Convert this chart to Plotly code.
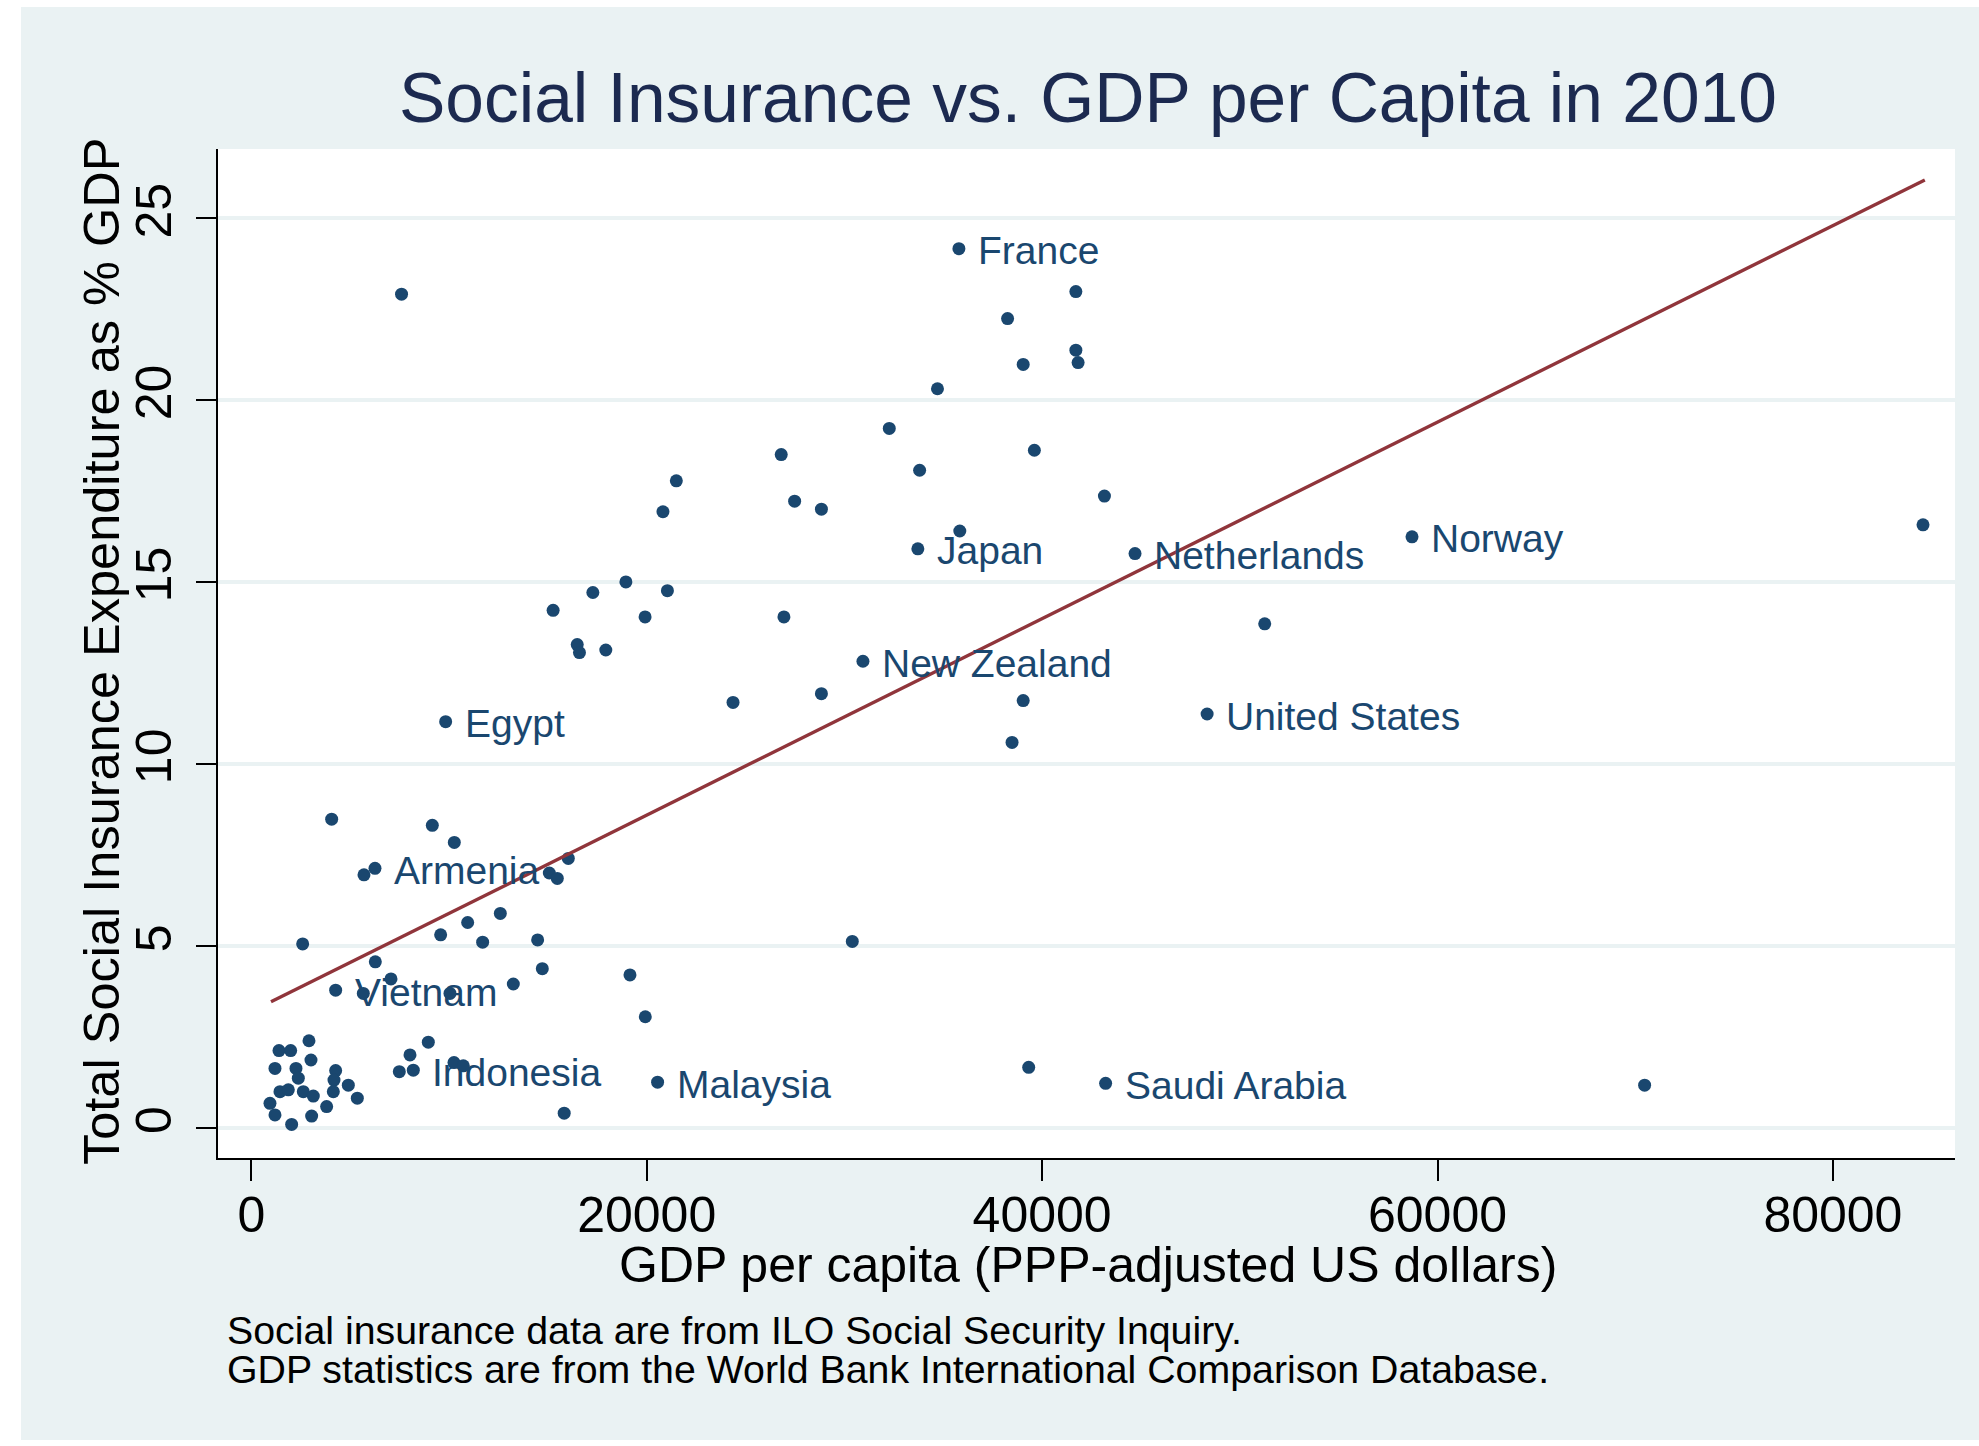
import plotly.graph_objects as go

# ---------------- data ----------------
gdp = [35792, 41708, 38254, 41708, 41821, 39044, 34708, 32270, 26805, 39609,
       33805, 21499, 20822, 27483, 28838, 43153, 35837, 33715, 44700, 58711,
       84558, 18948, 17277, 21048, 15267, 19919, 26941, 16486, 16599, 17931,
       51260, 30938, 24367, 28838, 39044, 38480, 48347, 9831, 7600, 4065,
       9156, 10269, 5700, 6257, 15074, 15479, 16035, 2598, 9578, 10944,
       12596, 11702, 14484, 6273, 14720, 19154, 19929, 4267, 5666, 7066,
       10050, 13253, 30400, 8195, 7487, 8027, 8954, 10252, 10724, 15827,
       20551, 39322, 43213, 70476,
       2918, 1401, 1991, 3019, 1198, 2260, 2378, 4267, 4183, 4908,
       1451, 1873, 2631, 3137, 4149, 5363, 945, 3811, 1198, 3053, 2041]
social_ins = [24.16, 22.98, 22.24, 21.37, 21.03, 20.98, 20.31, 19.22, 18.50, 18.62,
              18.07, 17.78, 16.93, 17.22, 17.00, 17.36, 16.40, 15.91, 15.78, 16.24,
              16.57, 15.00, 14.71, 14.76, 14.22, 14.04, 14.04, 13.28, 13.06, 13.13,
              13.85, 12.82, 11.69, 11.93, 11.74, 10.59, 11.37, 11.16, 22.91, 8.48,
              8.31, 7.84, 6.95, 7.13, 7.00, 6.85, 7.40, 5.05, 5.30, 5.64,
              5.89, 5.10, 5.16, 4.56, 4.37, 4.20, 3.05, 3.78, 3.69, 4.09,
              3.69, 3.95, 5.12, 1.58, 1.54, 2.00, 2.35, 1.79, 1.70, 0.40,
              1.25, 1.66, 1.22, 1.17,
              2.39, 2.12, 2.12, 1.86, 1.63, 1.63, 1.36, 1.57, 1.31, 1.17,
              0.99, 1.04, 0.99, 0.87, 0.99, 0.81, 0.67, 0.58, 0.35, 0.32, 0.09]
country = ["France", "", "", "", "", "", "", "", "", "",
           "", "", "", "", "", "", "", "Japan", "Netherlands", "Norway",
           "", "", "", "", "", "", "", "", "", "",
           "", "New Zealand", "", "", "", "", "United States", "Egypt", "", "",
           "", "", "", "Armenia", "", "", "", "", "", "",
           "", "", "", "", "", "", "", "Vietnam", "", "",
           "", "", "", "Indonesia", "", "", "", "", "", "",
           "Malaysia", "", "Saudi Arabia", "",
           "", "", "", "", "", "", "", "", "", "",
           "", "", "", "", "", "", "", "", "", "", ""]

# linear fit line endpoints (as drawn in the reference)
fit_gdp = [997, 84650]
fit_si = [3.46, 26.05]

x_ticks = [0, 20000, 40000, 60000, 80000]
x_tick_text = ["0", "20000", "40000", "60000", "80000"]
y_ticks = [0, 5, 10, 15, 20, 25]
y_tick_text = ["0", "5", "10", "15", "20", "25"]

title_text = "Social Insurance vs. GDP per Capita in 2010"
x_title = "GDP per capita (PPP-adjusted US dollars)"
y_title = "Total Social Insurance Expenditure as % GDP"
notes = ["Social insurance data are from ILO Social Security Inquiry.",
         "GDP statistics are from the World Bank International Comparison Database."]

# ---------------- layout geometry ----------------
W, H = 1979, 1446
PL, PR, PT, PB = 218, 1955, 149, 1158   # plot area in pixels
PW, PH = PR - PL, PB - PT


def px(xp):
    return (xp - PL) / PW


def py(yp):
    return (PB - yp) / PH


FONT = "Liberation Sans, Arial, sans-serif"
NAVY = "#1a476f"
MAROON = "#90353b"
BG = "#eaf2f3"

fig = go.Figure()

fig.add_trace(go.Scatter(
    x=gdp, y=social_ins, mode="markers",
    marker=dict(size=13, color=NAVY, line=dict(width=0)),
    showlegend=False, hoverinfo="skip"))

fig.add_trace(go.Scatter(
    x=fit_gdp, y=fit_si, mode="lines",
    line=dict(color=MAROON, width=3.4),
    showlegend=False, hoverinfo="skip"))

annotations = []
for xv, yv, name in zip(gdp, social_ins, country):
    if name:
        annotations.append(dict(
            x=xv, y=yv, xref="x", yref="y", text=name, showarrow=False,
            xanchor="left", yanchor="middle", xshift=18, yshift=-2, borderpad=0,
            font=dict(family=FONT, size=39, color=NAVY)))

# title
annotations.append(dict(
    x=px(1088), y=py(98), xref="paper", yref="paper", text=title_text,
    showarrow=False, xanchor="center", yanchor="middle", borderpad=0,
    font=dict(family=FONT, size=69.5, color="#1c2a50")))
# x axis title
annotations.append(dict(
    x=px(1088), y=py(1265), xref="paper", yref="paper", text=x_title,
    showarrow=False, xanchor="center", yanchor="middle", borderpad=0,
    font=dict(family=FONT, size=50, color="black")))
# y axis title
annotations.append(dict(
    x=px(101), y=py(652), xref="paper", yref="paper", text=y_title,
    showarrow=False, xanchor="center", yanchor="middle", textangle=-90, borderpad=0,
    font=dict(family=FONT, size=50.5, color="black")))
# notes
for line, yc in zip(notes, [1330, 1369]):
    annotations.append(dict(
        x=px(226), y=py(yc), xref="paper", yref="paper", text=line,
        showarrow=False, xanchor="left", yanchor="middle", borderpad=0,
        font=dict(family=FONT, size=39.3, color="black")))

shapes = [
    dict(type="rect", xref="paper", yref="paper", layer="below",
         x0=px(21), x1=px(W + 5), y0=py(1440), y1=py(7),
         fillcolor=BG, line=dict(width=0)),
    dict(type="rect", xref="paper", yref="paper", layer="below",
         x0=0, x1=1, y0=0, y1=1, fillcolor="white", line=dict(width=0)),
]

fig.update_layout(
    width=W, height=H, autosize=False,
    margin=dict(l=PL, r=W - PR, t=PT, b=H - PB, pad=0),
    paper_bgcolor="white", plot_bgcolor="rgba(0,0,0,0)",
    font=dict(family=FONT, color="black"),
    annotations=annotations, shapes=shapes, showlegend=False,
)

fig.update_xaxes(
    range=[-1684, 86176], tickmode="array", tickvals=x_ticks, ticktext=x_tick_text,
    ticks="outside", ticklen=21, tickwidth=2, tickcolor="black",
    ticklabelstandoff=-9,
    showline=True, linecolor="black", linewidth=2,
    showgrid=False, zeroline=False,
    tickfont=dict(family=FONT, size=50, color="black"))

fig.update_yaxes(
    range=[-0.833, 26.9], tickmode="array", tickvals=y_ticks, ticktext=y_tick_text,
    tickangle=-90, ticklabelstandoff=5,
    ticks="outside", ticklen=20, tickwidth=2, tickcolor="black",
    showline=True, linecolor="black", linewidth=2,
    showgrid=True, gridcolor=BG, gridwidth=4, zeroline=False,
    tickfont=dict(family=FONT, size=50, color="black"))

fig.write_html("out.html", config={"displayModeBar": False})
